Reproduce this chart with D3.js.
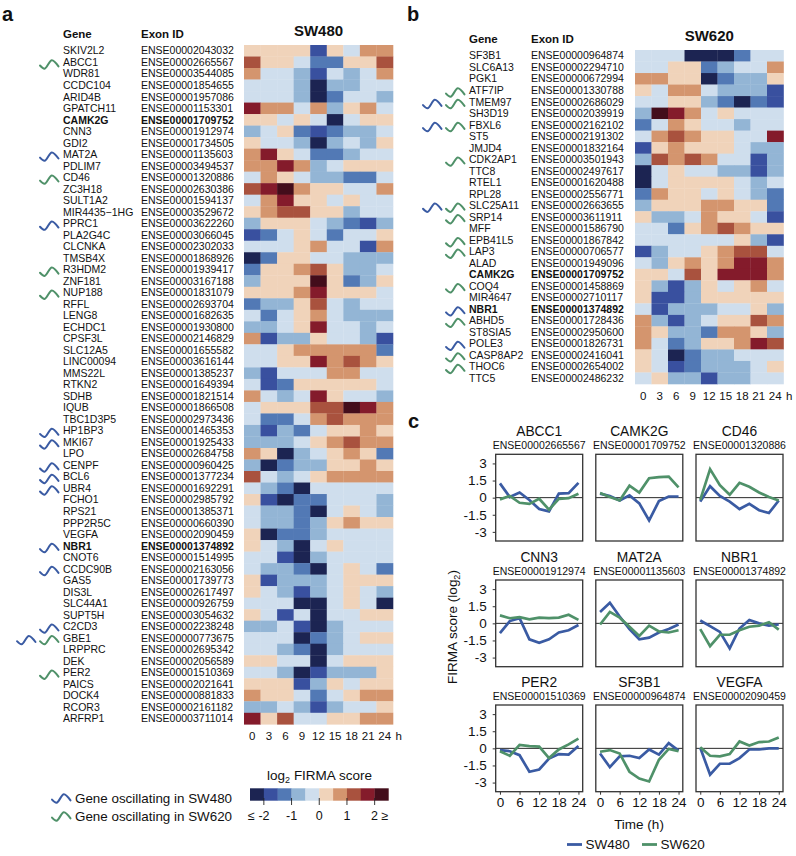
<!DOCTYPE html>
<html><head><meta charset="utf-8">
<script src="https://cdn.jsdelivr.net/npm/d3@7/dist/d3.min.js"></script>
<style>
html,body{margin:0;padding:0;background:#fff}
svg{display:block}
text{font-family:"Liberation Sans",Arial,sans-serif;fill:#111}
</style></head><body>
<svg id="chart" width="796" height="856"></svg>
<script>
const hours = [0,3,6,9,12,15,18,21,24];
const binEdges = [-2,-1.5,-1,-0.5,0,0.5,1,1.5,2];
const binColors = ["#1c2452","#39509f","#5279b5","#93b5d5","#cfdeed","#f0d3ba","#d4956e","#a9523e","#841b2b","#430d1b"];
const legendTicks = [-2,-1,0,1,2];
const legendTickLabels = ["≤ -2","-1","0","1","2 ≥"];

const sw480Genes = ["SKIV2L2","ABCC1","WDR81","CCDC104","ARID4B","GPATCH11","CAMK2G","CNN3","GDI2","MAT2A","PDLIM7","CD46","ZC3H18","SULT1A2","MIR4435−1HG","PPRC1","PLA2G4C","CLCNKA","TMSB4X","R3HDM2","ZNF181","NUP188","RFFL","LENG8","ECHDC1","CPSF3L","SLC12A5","LINC00094","MMS22L","RTKN2","SDHB","IQUB","TBC1D3P5","HP1BP3","MKI67","LPO","CENPF","BCL6","UBR4","FCHO1","RPS21","PPP2R5C","VEGFA","NBR1","CNOT6","CCDC90B","GAS5","DIS3L","SLC44A1","SUPT5H","C2CD3","GBE1","LRPPRC","DEK","PER2","PAICS","DOCK4","RCOR3","ARFRP1"];
const sw480Exons = ["ENSE00002043032","ENSE00002665567","ENSE00003544085","ENSE00001854655","ENSE00001957086","ENSE00001153301","ENSE00001709752","ENSE00001912974","ENSE00001734505","ENSE00001135603","ENSE00003494537","ENSE00001320886","ENSE00002630386","ENSE00001594137","ENSE00003529672","ENSE00003622260","ENSE00003066045","ENSE00002302033","ENSE00001868926","ENSE00001939417","ENSE00003167188","ENSE00001831079","ENSE00002693704","ENSE00001682635","ENSE00001930800","ENSE00002146829","ENSE00001655582","ENSE00003616144","ENSE00001385237","ENSE00001649394","ENSE00001821514","ENSE00001866508","ENSE00002973436","ENSE00001465353","ENSE00001925433","ENSE00002684758","ENSE00000960425","ENSE00001377234","ENSE00001692291","ENSE00002985792","ENSE00001385371","ENSE00000660390","ENSE00002090459","ENSE00001374892","ENSE00001514995","ENSE00002163056","ENSE00001739773","ENSE00002617497","ENSE00000926759","ENSE00003054632","ENSE00002238248","ENSE00000773675","ENSE00002695342","ENSE00002056589","ENSE00001510369","ENSE00002021641","ENSE00000881833","ENSE00002161182","ENSE00003711014"];
const sw480Scores = [
[.2,.2,.2,.2,-1.7,.2,-.2,.7,.7],
[1.2,.2,.2,-.2,-1.2,-1.2,.2,.2,1.2],
[.7,-.2,-.2,-.7,-1.7,-.2,-.7,-.2,.7],
[-.2,-.2,-.2,-.7,-2.2,-.7,-.7,-.2,-.2],
[-.2,-.2,-.2,-.7,-2.2,-1.2,-.2,-.2,-.7],
[1.7,.7,.7,-.2,.7,-.7,.2,.7,-.2],
[.2,.2,-.2,.2,-.2,-2.2,-.2,.2,.2],
[-.7,-.2,.2,-1.2,-1.7,-1.2,-.7,-.7,-.2],
[.2,-.2,-.2,-.7,-2.2,-.7,-.2,-.7,.2],
[.7,1.7,.2,-.2,-1.2,-1.2,-.7,-.2,-.2],
[.7,.7,1.7,.7,-.7,-.2,.2,.2,.2],
[-.2,.7,.2,-.2,-.7,-.7,-1.2,-1.2,-.2],
[1.2,1.7,2.2,.7,.2,.2,-.2,-.2,.7],
[-.2,.7,1.7,.2,.2,-.2,.2,-.2,-.2],
[.2,.7,1.2,1.2,.2,.2,-.7,-.2,-.2],
[-.7,.2,.2,.2,-.2,-.7,-1.2,-1.7,-.7],
[-1.7,-1.2,-.2,.2,-.2,-1.2,-.2,-.2,.2],
[-.2,-.2,-.2,.2,.7,-.2,-.2,-1.7,.7],
[-2.2,-1.2,.2,.2,-.2,-.2,-.7,-.7,-.7],
[-1.2,.2,.2,.7,1.2,.2,-.7,-.7,-.2],
[-.7,.2,.2,.2,2.2,.2,-1.2,-.7,.2],
[.2,.2,.2,.7,1.7,.2,.2,.2,-.2],
[-1.2,-.7,-.7,.2,1.2,-.2,-.7,-.2,-.2],
[-.2,-1.2,-.2,.2,.7,-.2,-.7,-.7,-.7],
[-.7,-.7,-.2,.2,1.7,-.2,-.2,-.7,-.2],
[.7,-1.7,-.7,-.7,.2,-.2,-.2,-.7,-1.7],
[-.2,-.2,.2,.7,.7,.7,.7,.7,-1.2],
[-.2,-.2,.2,.2,1.7,.7,1.2,.7,.2],
[-.7,-1.7,-.2,-.2,-.2,.7,.7,-.2,-.2],
[-.2,-1.7,-1.2,.2,.2,.2,.2,.2,-.2],
[.7,-.2,-.7,-.2,1.7,.2,-.2,-.2,-.7],
[-.2,.2,.2,.2,1.2,1.2,2.2,1.7,.7],
[-.2,-1.2,-1.2,-.2,.7,1.2,.7,.7,.7],
[-.7,-1.7,-.7,-1.2,-.2,.2,.2,.7,.2],
[-.7,-.7,-.7,-.2,.2,.7,1.2,.7,.7],
[.7,.2,-2.2,-.7,-.2,.2,.7,.2,-1.2],
[-.7,-2.2,-1.2,-.7,-.7,.2,.2,.7,.2],
[1.2,-.2,-.7,-.2,.2,.7,.7,.7,.7],
[-.2,-.7,-1.2,-2.2,-.2,-.2,-.2,-.2,-.2],
[.2,-1.7,-2.2,-1.2,-1.2,-.2,-.2,-.2,-.7],
[-.2,-.7,-.7,-1.2,-2.2,-.2,.2,-.2,-.7],
[-.2,-.7,-.7,-1.2,-.7,.2,.7,.2,.2],
[.2,-2.2,-1.2,-1.2,-.7,-.2,-.2,-.2,-.2],
[.2,-.2,-.7,-2.2,-.2,.2,-.2,-.2,-.2],
[-.2,-.2,-1.7,-2.2,-.7,-.2,-.2,-.2,-.2],
[-.2,-.7,-.7,-1.2,-2.2,-.2,.2,-.2,-1.2],
[.2,-1.7,-.7,-.7,-.7,-.2,.2,.2,.2],
[.2,-.2,-.7,-1.7,-.7,-.2,.2,-.2,-.7],
[-.2,-.2,-.2,-2.2,-2.2,-.2,.2,-.2,-2.2],
[.2,-.2,-1.7,-.2,-2.2,-.2,-.2,.2,.2],
[-.7,-.7,-.2,-1.7,-2.2,-.7,-.2,-.2,-.2],
[-.2,-.2,-.2,-2.2,-1.2,-.7,-.2,.2,.2],
[-.2,-.2,-.7,-1.2,-2.2,-.7,-.2,-.2,-.2],
[.2,.2,-.2,-.2,-2.2,-.2,.2,.2,.2],
[-.2,-.2,-.7,-2.2,-1.7,-.7,-.7,-.7,.2],
[.2,.2,.2,-1.7,-.7,.2,-.2,.2,.2],
[.7,.2,.2,-.2,-1.2,-.2,.2,.7,.7],
[-.7,-.7,-.2,-.7,-1.7,-.7,-.2,-.2,.2],
[1.7,.2,1.2,-.2,-.2,.2,.2,.7,.7]
];
const sw480Blue = ["MAT2A","PPRC1","HP1BP3","MKI67","CENPF","BCL6","UBR4","NBR1","CCDC90B","C2CD3","GBE1"];
const sw480Green = ["ABCC1","CD46","R3HDM2","NUP188","GBE1","PER2"];

const sw620Genes = ["SF3B1","SLC6A13","PGK1","ATF7IP","TMEM97","SH3D19","FBXL6","ST5","JMJD4","CDK2AP1","TTC8","RTEL1","RPL28","SLC25A11","SRP14","MFF","EPB41L5","LAP3","ALAD","CAMK2G","COQ4","MIR4647","NBR1","ABHD5","ST8SIA5","POLE3","CASP8AP2","THOC6","TTC5"];
const sw620Exons = ["ENSE00000964874","ENSE00002294710","ENSE00000672994","ENSE00001330788","ENSE00002686029","ENSE00002039919","ENSE00002162102","ENSE00002191302","ENSE00001832164","ENSE00003501943","ENSE00002497617","ENSE00001620488","ENSE00002556771","ENSE00002663655","ENSE00003611911","ENSE00001586790","ENSE00001867842","ENSE00000706577","ENSE00001949096","ENSE00001709752","ENSE00001458869","ENSE00002710117","ENSE00001374892","ENSE00001728436","ENSE00002950600","ENSE00001826731","ENSE00002416041","ENSE00002654002","ENSE00002486232"];
const sw620Scores = [
[-.2,-.2,-.2,-2.2,-2.2,-2.2,-1.2,-.2,-.2],
[-.2,-.2,.2,.2,-1.2,-.7,-.2,-.2,.7],
[.7,.7,.2,.2,-2.2,-1.2,-.7,-.7,.2],
[.2,-.2,.7,.7,-.2,-.7,-.7,-.7,-1.7],
[-.2,-.2,.2,.2,-.7,-1.2,-2.2,-1.2,-1.7],
[-.7,2.2,1.7,.7,-.2,.2,-.2,-.2,-.2],
[-1.2,-.2,.7,.2,-.2,-.2,-.7,-.2,-.2],
[-.2,.7,1.2,.7,.2,.2,-.2,-.2,1.7],
[-1.7,.2,.7,.2,.2,.2,-.2,-.7,-.7],
[-.7,1.2,.7,1.2,.7,-.2,-.2,-1.7,-.7],
[-2.2,-.2,.2,-.2,-.2,-.7,-.7,-1.7,-.7],
[-2.2,-.2,.2,.2,.2,.2,-.2,-.7,-.2],
[-1.2,.7,.2,.2,-.2,.2,-.2,-.7,-1.2],
[-.7,.2,.2,.2,.7,.7,.2,.2,-1.2],
[.2,-.7,-.7,-.2,.7,.2,.2,-.2,-1.7],
[-.2,-.2,-1.2,.2,.7,1.2,.7,.2,.2],
[-.2,-.2,-.2,-.2,-.2,-.2,.2,-.7,-1.7],
[-1.7,-.7,-.2,-.2,.2,.7,1.2,1.2,-.2],
[-.2,-.7,.2,.7,.2,.7,1.7,1.7,.7],
[.2,.2,-.2,1.2,.2,1.7,1.7,1.7,.7],
[.2,-.7,-1.7,-.7,.2,-.2,.2,.7,-.2],
[.2,-1.7,-1.7,-.7,.2,.2,.2,.2,.2],
[-.2,-1.7,-.7,-.7,-.7,-.2,-.2,.2,-.7],
[.7,-.7,-1.7,-.7,-.2,.2,.2,1.2,.7],
[.7,.2,-.7,-.7,-1.2,.7,.7,.2,-.7],
[.7,-.2,-1.2,-.7,.2,.2,.7,1.7,1.2],
[.2,-.2,-2.2,-1.2,-.7,-.7,-.2,-.2,-.2],
[.2,-.2,-1.7,-1.2,-.7,-.7,-.7,-.2,.2],
[-.2,.2,-.7,-.7,-1.7,-.7,-.7,-.2,-.2]
];
const sw620Blue = ["TMEM97","FBXL6","SLC25A11","NBR1","POLE3"];
const sw620Green = ["ATF7IP","TMEM97","FBXL6","CDK2AP1","SLC25A11","SRP14","EPB41L5","LAP3","COQ4","ABHD5","CASP8AP2","THOC6"];
const boldGenes = ["CAMK2G","NBR1"];

const profileGenes = ["ABCC1","CAMK2G","CD46","CNN3","MAT2A","NBR1","PER2","SF3B1","VEGFA"];
const profileExons = ["ENSE00002665567","ENSE00001709752","ENSE00001320886","ENSE00001912974","ENSE00001135603","ENSE00001374892","ENSE00001510369","ENSE00000964874","ENSE00002090459"];
const profileSW480 = [
[1.25,.05,.45,-.2,-1,-1.2,.35,.4,1.3],
[.35,.15,-.25,.2,-.5,-2,-.3,.1,.1],
[-.35,1,.15,-.35,-1,-.55,-1.1,-1.35,-.25],
[-.85,.2,.45,-1.4,-1.7,-1.4,-.8,-.6,-.15],
[1,1.8,.6,-.5,-1.4,-1.25,-.8,-.5,-.1],
[.25,-.25,-.75,-2.2,-.45,.3,0,-.2,-.1],
[-.15,-.25,-.6,-2.05,-1.85,-.9,-.5,-.55,.2],
[-.45,-1.65,-.7,-.65,-.85,-.1,-.55,.45,-.2],
[.05,-2.3,-1.35,-1.35,-.85,-.1,-.1,0,0]
];
const profileSW620 = [
[-.15,.15,-.45,-.55,-.1,-1.05,-.1,-.05,.35],
[.4,.05,-.25,1.05,.45,1.7,1.8,1.85,.9],
[-.2,2.5,1.1,.25,1.3,.95,.45,.05,-.25],
[.7,.45,.55,.35,.5,.45,.5,.75,.3],
[-.1,1,.5,-.3,-1.1,-.2,-.7,-.8,-.6],
[-.5,-2,-1,-1,-.6,-.3,-.2,.1,-.55],
[-.25,-.65,.3,.2,.15,-.85,-.1,.35,.85],
[-.3,-.15,-.45,-2.05,-2.65,-2.9,-1,-.05,-.25],
[.1,-.65,-.7,-.5,.6,.25,.55,.6,.95]
];
const profileYTicks = [-3,-1.5,0,1.5,3];
const profileXTicks = [0,6,12,18,24];
const squiggleShape = [[0,-.25],[.25,-1],[.64,1],[1,-.45]];

const BLUE = "#3a5ba3", GREEN = "#4f9169";
const svg = d3.select("#chart");
const color = d3.scaleThreshold().domain(binEdges).range(binColors);

function txt(g,x,y,s,size,opts={}){
  return g.append("text").attr("x",x).attr("y",y).attr("font-size",size)
    .attr("text-anchor",opts.anchor||"start").attr("font-weight",opts.weight||"normal").text(s);
}
const squiggleX = d3.scaleLinear().domain([0,1]).range([0,18.5]);
const squiggleY = d3.scaleLinear().domain([-1,1]).range([4.2,-4.2]);
const squiggleLine = d3.line().x(d=>squiggleX(d[0])).y(d=>squiggleY(d[1])).curve(d3.curveCatmullRom.alpha(0.5));
function squiggle(g,x,y,c){
  g.append("path").attr("transform",`translate(${x},${y})`).attr("d",squiggleLine(squiggleShape))
   .attr("fill","none").attr("stroke",c).attr("stroke-width",2).attr("stroke-linecap","round");
}

function heatmap(cfg){
  const g = svg.append("g");
  const x = d3.scaleBand().domain(hours).range([cfg.x0,cfg.x1]);
  const y = d3.scaleBand().domain(d3.range(cfg.genes.length)).range([cfg.y0,cfg.y1]);
  cfg.scores.forEach((row,i)=>{
    g.append("g").selectAll("rect").data(row).join("rect")
      .attr("x",(d,j)=>x(hours[j])).attr("y",y(i))
      .attr("width",x.bandwidth()+0.3).attr("height",y.bandwidth()+0.3)
      .attr("fill",d=>color(d));
    const b = boldGenes.includes(cfg.genes[i]);
    const cy = y(i)+y.bandwidth()/2+3.7;
    txt(g,cfg.geneX,cy,cfg.genes[i],10.5,{weight:b?"bold":"normal"});
    txt(g,cfg.exonX,cy,cfg.exons[i],10.5,{weight:b?"bold":"normal"});
    const mid = y(i)+y.bandwidth()/2+2.2;
    const hasB = cfg.blue.includes(cfg.genes[i]), hasG = cfg.green.includes(cfg.genes[i]);
    if(hasG) squiggle(g,cfg.geneX-23,mid,GREEN);
    if(hasB) squiggle(g,hasG?cfg.geneX-46:cfg.geneX-23,mid,BLUE);
  });
  txt(g,cfg.geneX,cfg.y0-7,"Gene",11.5,{weight:"bold"});
  txt(g,cfg.exonX,cfg.y0-7,"Exon ID",11.5,{weight:"bold"});
  txt(g,(cfg.x0+cfg.x1)/2,cfg.y0-9,cfg.title,15,{weight:"bold",anchor:"middle"});
  hours.forEach(h=>txt(g,x(h)+x.bandwidth()/2,cfg.y1+15.5,String(h),11.5,{anchor:"middle"}));
  txt(g,cfg.x1+2.5,cfg.y1+15.5,"h",11.5);
}
heatmap({genes:sw480Genes,exons:sw480Exons,scores:sw480Scores,blue:sw480Blue,green:sw480Green,title:"SW480",
  x0:244,x1:393,y0:45,y1:724.3,geneX:63,exonX:141});
heatmap({genes:sw620Genes,exons:sw620Exons,scores:sw620Scores,blue:sw620Blue,green:sw620Green,title:"SW620",
  x0:635,x1:783.5,y0:50,y1:384,geneX:469,exonX:531});

txt(svg,2,20.5,"a",20,{weight:"bold"});
txt(svg,407,20.5,"b",20,{weight:"bold"});
txt(svg,408,428,"c",20,{weight:"bold"});

// legend, panel a
const lg = svg.append("g");
squiggle(lg,52,798.5,BLUE);
squiggle(lg,52,816.5,GREEN);
txt(lg,75,802.5,"Gene oscillating in SW480",13.4);
txt(lg,75,820.5,"Gene oscillating in SW620",13.4);
const legendX = d3.scaleLinear().domain([-2.5,2.5]).range([250,388.5]);
const legendEdges = [-2.5,...binEdges,2.5];
binColors.forEach((c,i)=>lg.append("rect").attr("x",legendX(legendEdges[i])).attr("y",788.3)
  .attr("width",legendX(legendEdges[i+1])-legendX(legendEdges[i])+0.2).attr("height",12.4).attr("fill",c));
legendTicks.forEach((t,i)=>{
  lg.append("line").attr("x1",legendX(t)).attr("x2",legendX(t)).attr("y1",798).attr("y2",805).attr("stroke","#222").attr("stroke-width",.9);
  txt(lg,legendX(t)+(i==0?-5:i==4?5:0),820,legendTickLabels[i],12.5,{anchor:"middle"});
});
const lt = txt(lg,319.5,780,"log",13.5,{anchor:"middle"});
lt.append("tspan").attr("dy",3).attr("font-size",9).text("2");
lt.append("tspan").attr("dy",-3).text(" FIRMA score");

// panel c
const cols = [495.7,595.8,696], rows = [454.3,580,705], W = 87, H = 86.7;
const px = d3.scaleLinear().domain([-1.3,25.3]).range([0,W]);
const py = d3.scaleLinear().domain([-3.8,3.8]).range([H,0]);
const line = d3.line().x((d,i)=>px(hours[i])).y(d=>py(d));
profileGenes.forEach((gene,k)=>{
  const c = k%3, r = Math.floor(k/3);
  const g = svg.append("g").attr("transform",`translate(${cols[c]},${rows[r]})`);
  txt(g,W/2,-18,gene,13.8,{anchor:"middle"});
  txt(g,W/2,-5,profileExons[k],10.5,{anchor:"middle"});
  g.append("line").attr("x1",0).attr("x2",W).attr("y1",py(0)).attr("y2",py(0)).attr("stroke","#111").attr("stroke-width",.9);
  g.append("path").attr("d",line(profileSW480[k])).attr("fill","none").attr("stroke",BLUE).attr("stroke-width",2.7);
  g.append("path").attr("d",line(profileSW620[k])).attr("fill","none").attr("stroke",GREEN).attr("stroke-width",2.7);
  g.append("rect").attr("width",W).attr("height",H).attr("fill","none").attr("stroke","#333").attr("stroke-width",1.3);
  if(c==0){
    const ay = g.append("g").call(d3.axisLeft(py).tickValues(profileYTicks).tickFormat(d=>d==0?"0":String(d)).tickSize(3).tickPadding(6));
    ay.select(".domain").remove();
    ay.selectAll("line").attr("stroke","#333");
    ay.selectAll("text").attr("font-size",13.5).attr("font-family",'"Liberation Sans",Arial,sans-serif').attr("fill","#111");
  }
  if(r==2){
    const ax = g.append("g").attr("transform",`translate(0,${H})`).call(d3.axisBottom(px).tickValues(profileXTicks).tickFormat(d3.format("d")).tickSize(3).tickPadding(3));
    ax.select(".domain").remove();
    ax.selectAll("line").attr("stroke","#333");
    ax.selectAll("text").attr("font-size",13.5).attr("font-family",'"Liberation Sans",Arial,sans-serif').attr("fill","#111");
  }
});
const yt = svg.append("text").attr("transform","translate(457,627) rotate(-90)").attr("font-size",13.5).attr("text-anchor","middle").text("FIRMA score (log");
yt.append("tspan").attr("dy",3).attr("font-size",9).text("2");
yt.append("tspan").attr("dy",-3).text(")");
txt(svg,639,829,"Time (h)",13.5,{anchor:"middle"});
const ll = svg.append("g");
[[567,"SW480",BLUE],[642,"SW620",GREEN]].forEach(([x,s,c])=>{
  ll.append("line").attr("x1",x).attr("x2",x+15).attr("y1",844.5).attr("y2",844.5).attr("stroke",c).attr("stroke-width",2.8);
  txt(ll,x+18.5,849,s,13.5);
});
</script>
</body></html>
